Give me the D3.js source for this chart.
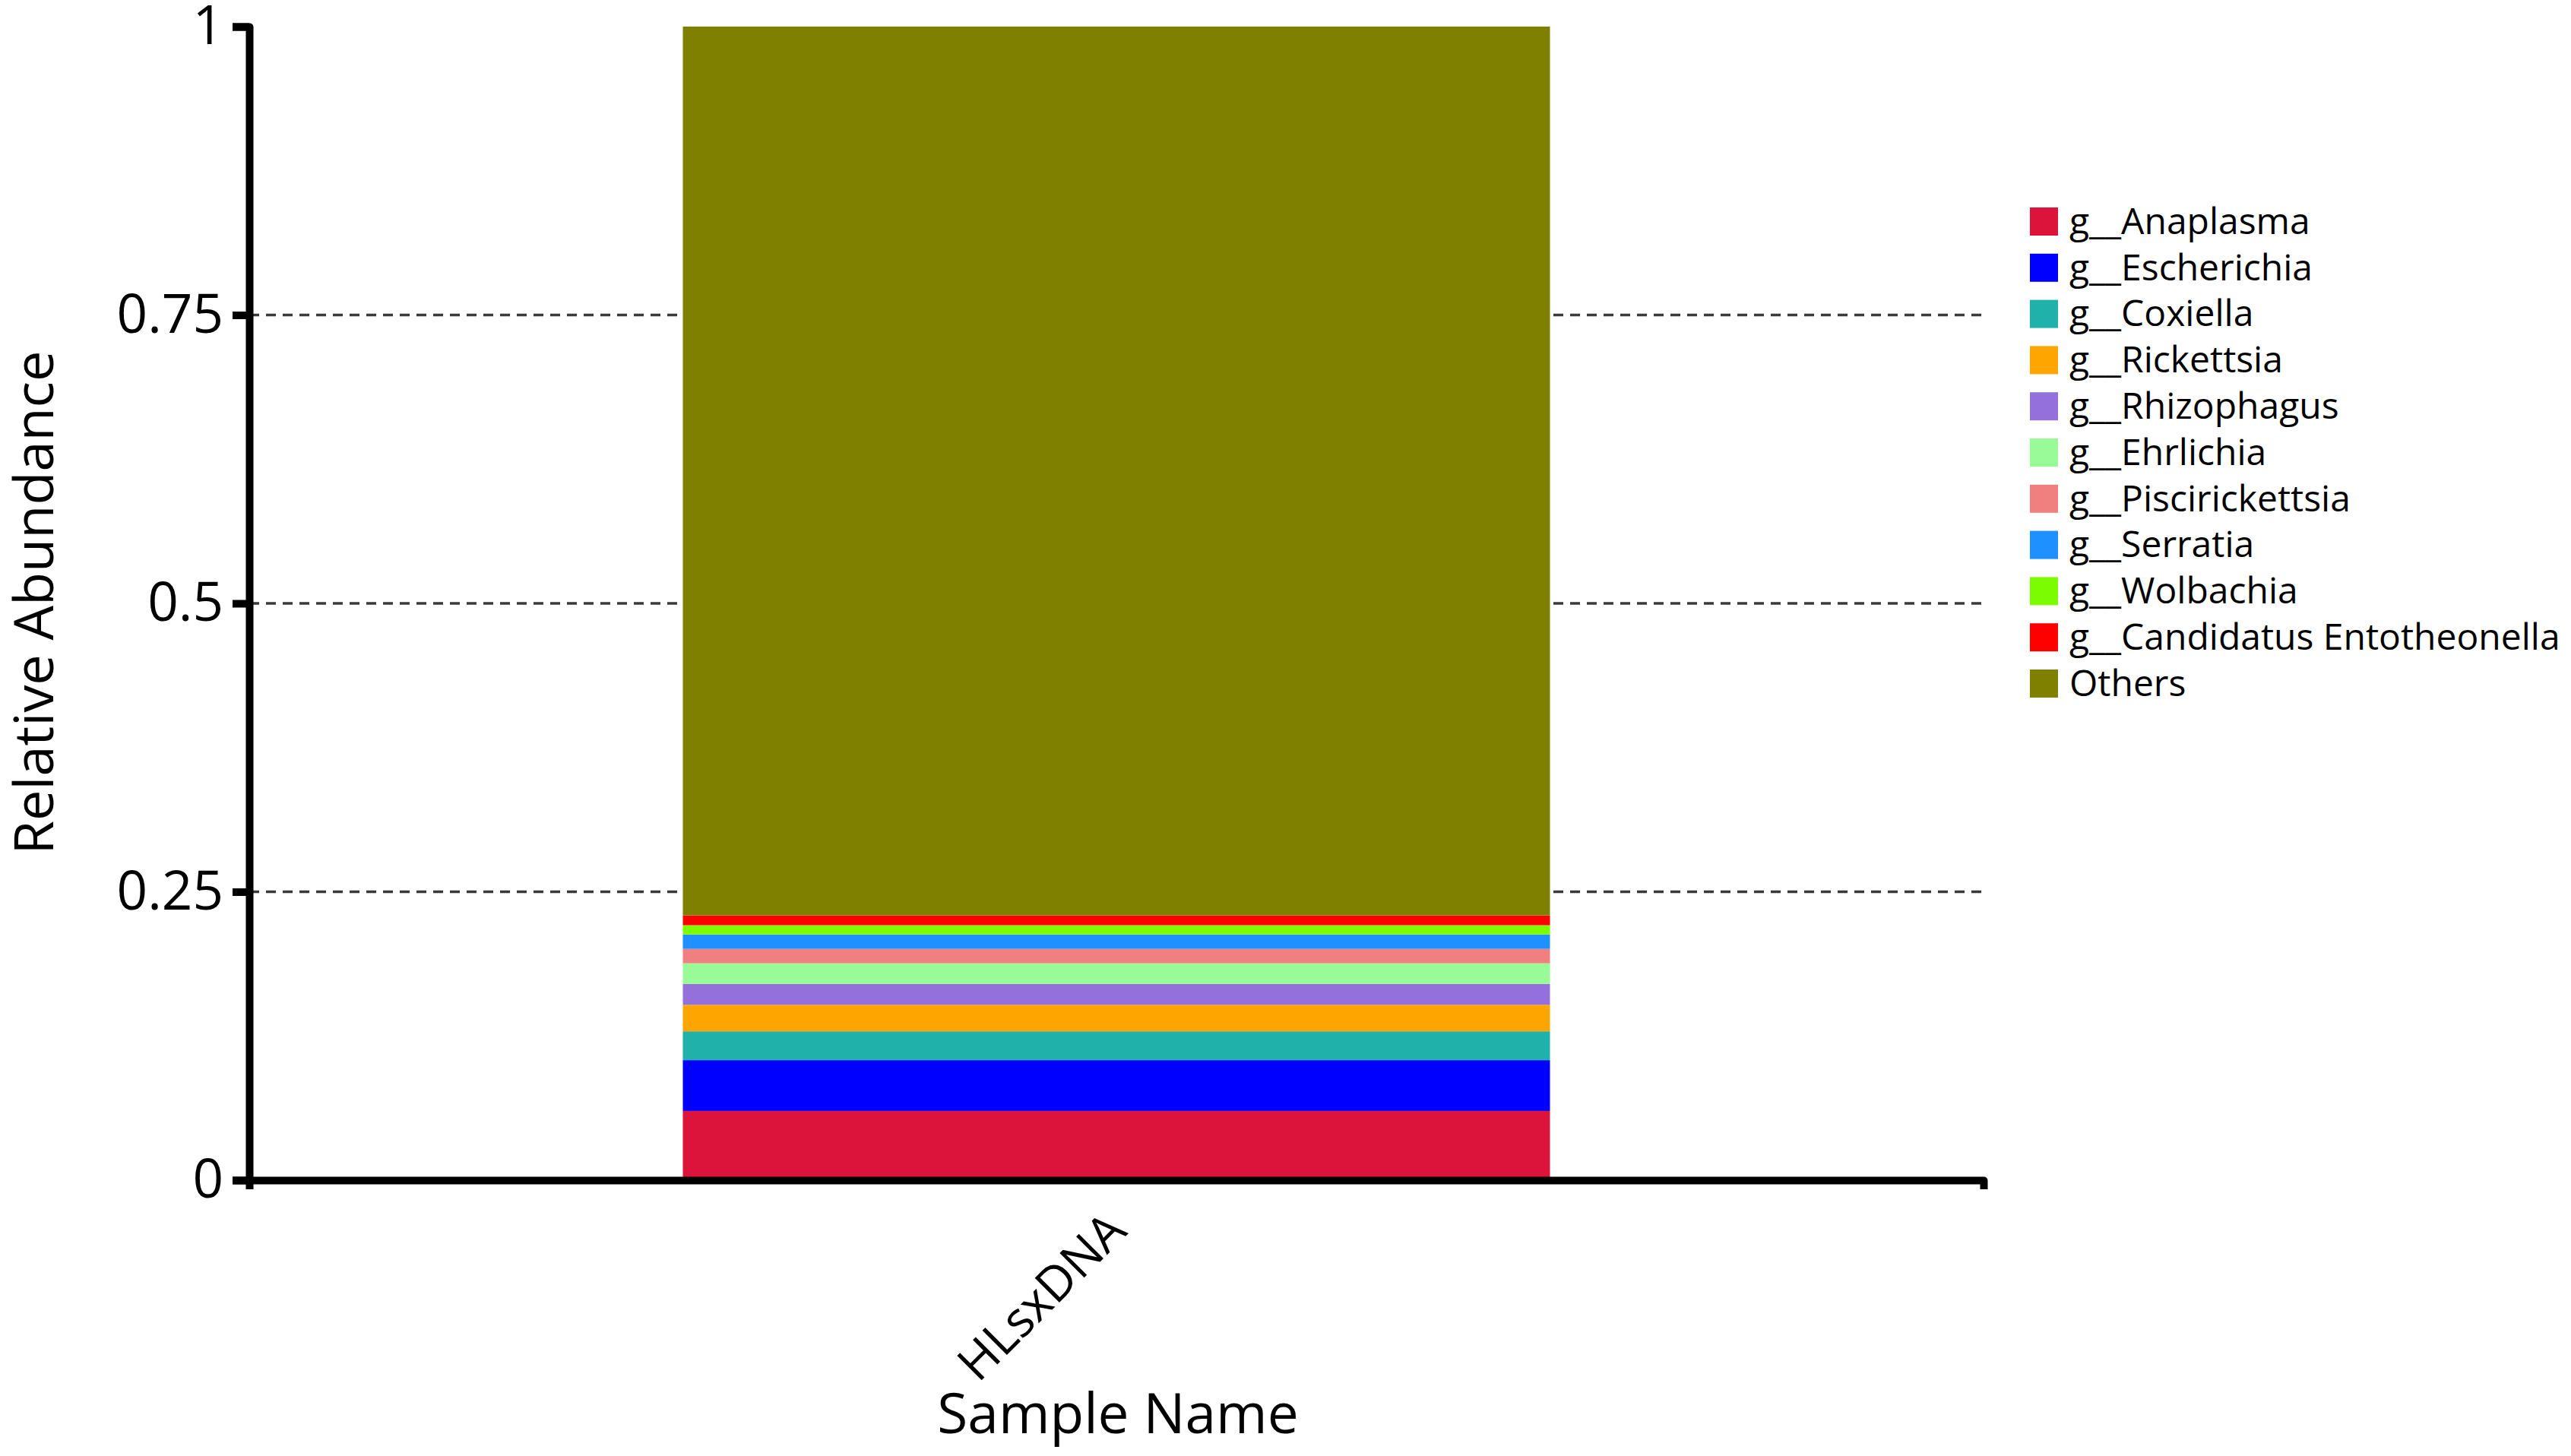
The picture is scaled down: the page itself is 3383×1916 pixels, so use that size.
<!DOCTYPE html>
<html>
<head>
<meta charset="utf-8">
<script src="https://cdn.jsdelivr.net/npm/d3@7"></script>
<style>
  html, body { margin: 0; padding: 0; background: #fff; }
  svg { display: block; }
  text { font-family: "Open Sans", "Noto Sans", sans-serif; fill: #000; }
</style>
</head>
<body>
<script>
// ---- data ----
const samples = ["HLsxDNA"];
const taxa = ["g__Anaplasma", "g__Escherichia", "g__Coxiella", "g__Rickettsia", "g__Rhizophagus",
              "g__Ehrlichia", "g__Piscirickettsia", "g__Serratia", "g__Wolbachia",
              "g__Candidatus Entotheonella", "Others"];
const abundance = [0.060, 0.044, 0.025, 0.023, 0.018, 0.018, 0.0125, 0.0125, 0.008, 0.0085, 0.7705];
const colors = ["#DC143C", "#0000FF", "#20B2AA", "#FFA500", "#9370DB", "#98FB98",
                "#F08080", "#1E90FF", "#7CFC00", "#FF0000", "#808000"];
const yTicks = [0, 0.25, 0.5, 0.75, 1];
const yTickLabels = ["0", "0.25", "0.5", "0.75", "1"];
const gridTicks = [0.25, 0.5, 0.75];

// ---- layout ----
const W = 3383, H = 1916;
const mLeft = 328, mRight = 2610, mTop = 35, mBottom = 1553;

const svg = d3.select("body").append("svg").attr("width", W).attr("height", H);
svg.append("rect").attr("width", W).attr("height", H).attr("fill", "#fff");

const x = d3.scaleBand().domain(samples).range([mLeft, mRight]).paddingInner(0).paddingOuter(0.5);
const y = d3.scaleLinear().domain([0, 1]).range([mBottom, mTop]);

// gridlines
svg.append("g").selectAll("line").data(gridTicks).join("line")
  .attr("x1", mLeft).attr("x2", mRight)
  .attr("y1", d => y(d)).attr("y2", d => y(d))
  .attr("stroke", "#3a3a3a").attr("stroke-width", 3.5).attr("stroke-dasharray", "13,9");

// stacked bar
const row = {sample: samples[0]};
taxa.forEach((t, i) => row[t] = abundance[i]);
const stack = d3.stack().keys(taxa)([row]);
svg.append("g").selectAll("rect").data(stack).join("rect")
  .attr("x", x(samples[0]))
  .attr("width", x.bandwidth())
  .attr("y", d => y(d[0][1]))
  .attr("height", d => y(d[0][0]) - y(d[0][1]))
  .attr("fill", (d, i) => colors[i]);

// y axis
const yAxis = svg.append("g").attr("transform", `translate(${mLeft},0)`)
  .call(d3.axisLeft(y).tickValues(yTicks).tickFormat((d, i) => yTickLabels[i])
        .tickSize(22).tickSizeOuter(22).tickPadding(12));
yAxis.select(".domain").attr("stroke", "#000").attr("stroke-width", 10).attr("stroke-linejoin", "round");
yAxis.selectAll(".tick line").attr("stroke", "#000").attr("stroke-width", 10);
yAxis.selectAll(".tick text").style("font-size", "71px").style("font-family", "'Open Sans', sans-serif").attr("fill", "#000");

// x axis
const xAxis = svg.append("g").attr("transform", `translate(0,${mBottom})`)
  .call(d3.axisBottom(x).tickSizeInner(0).tickSizeOuter(12).tickPadding(0));
xAxis.select(".domain").attr("stroke", "#000").attr("stroke-width", 10).attr("stroke-linejoin", "round");
xAxis.selectAll(".tick text")
  .style("font-size", "64px").style("font-family", "'Open Sans', sans-serif").attr("fill", "#000")
  .attr("text-anchor", "end")
  .attr("dy", 0).attr("y", 0)
  .attr("transform", "translate(16,70) rotate(-45)");

// axis titles
svg.append("text").attr("x", 1471).attr("y", 1886).attr("text-anchor", "middle")
  .style("font-size", "73px").text("Sample Name");
svg.append("text").attr("transform", "translate(70,793) rotate(-90)").attr("text-anchor", "middle")
  .style("font-size", "72px").text("Relative Abundance");

// legend
const lg = svg.append("g").attr("transform", "translate(2671,291)");
const items = lg.selectAll("g").data(taxa).join("g")
  .attr("transform", (d, i) => `translate(0,${i * 60.8})`);
items.append("rect").attr("x", 0).attr("y", -18).attr("width", 37).attr("height", 37)
  .attr("fill", (d, i) => colors[i]);
items.append("text").attr("x", 52).attr("y", 0).attr("dy", "0.35em")
  .style("font-size", "48px").text(d => d);
</script>
</body>
</html>
